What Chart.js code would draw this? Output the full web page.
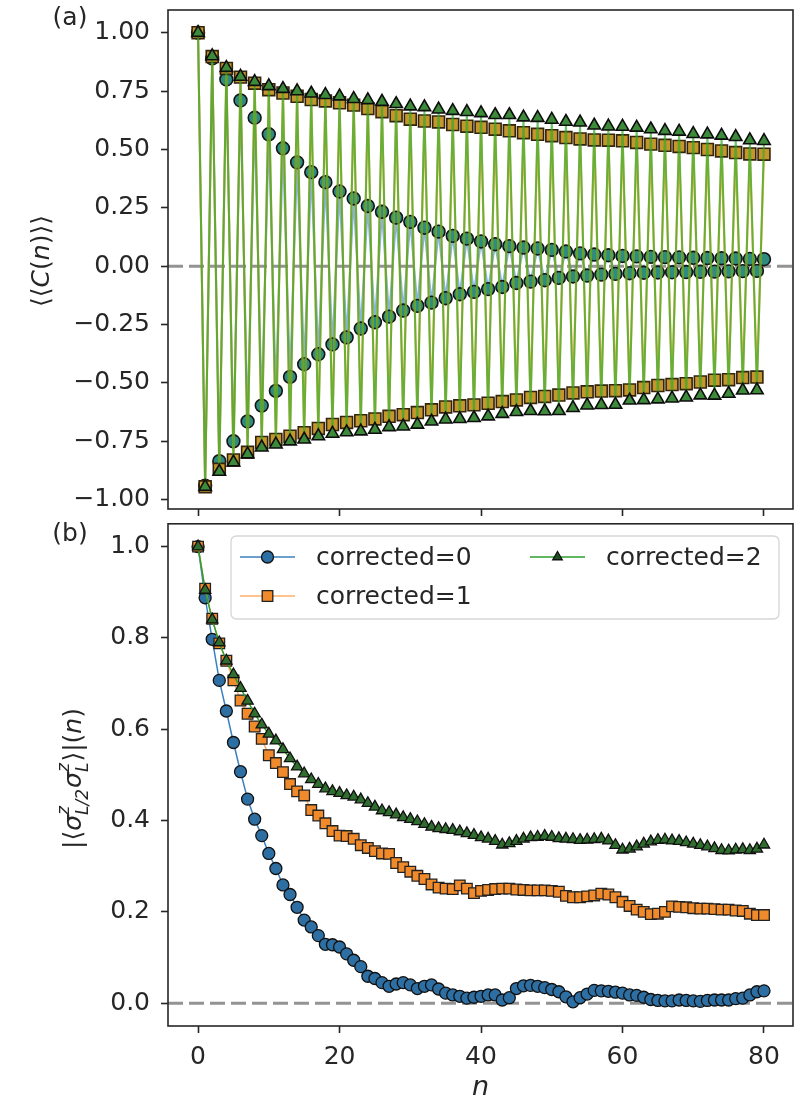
<!DOCTYPE html>
<html><head><meta charset="utf-8">
<script src="https://cdn.jsdelivr.net/npm/chart.js@4/dist/chart.umd.min.js"></script>
<style>
html,body{margin:0;padding:0;background:#fff;}
#wrap{position:relative;width:805px;height:1105px;overflow:hidden;background:#fff;}
#ca{position:absolute;left:0;top:0;width:805px;height:530px;}
#cb{position:absolute;left:0;top:515px;width:805px;height:590px;}
</style></head><body>
<div id="wrap"><canvas id="cb" width="805" height="590"></canvas><canvas id="ca" width="805" height="530"></canvas></div>
<script>
// ---------------- data ----------------
const n = [0,1,2,3,4,5,6,7,8,9,10,11,12,13,14,15,16,17,18,19,20,21,22,23,24,25,26,27,28,29,30,31,32,33,34,35,36,37,38,39,40,41,42,43,44,45,46,47,48,49,50,51,52,53,54,55,56,57,58,59,60,61,62,63,64,65,66,67,68,69,70,71,72,73,74,75,76,77,78,79,80];
const xTicks = [0,20,40,60,80];
const xTickLabels = ['0','20','40','60','80'];
const yTicksA = [-1,-0.75,-0.5,-0.25,0,0.25,0.5,0.75,1];
const yTickLabelsA = ['\u22121.00','\u22120.75','\u22120.50','\u22120.25','0.00','0.25','0.50','0.75','1.00'];
const yTicksB = [0,0.2,0.4,0.6,0.8,1.0];
const yTickLabelsB = ['0.0','0.2','0.4','0.6','0.8','1.0'];
const seriesNames = ['corrected=0','corrected=1','corrected=2'];
const refLine = 0;

// panel (a): <<C(n)>>
const cA0 = [1.0,-0.94,0.89,-0.835,0.80,-0.75,0.71,-0.665,0.636,-0.597,0.565,-0.534,0.505,-0.474,0.445,-0.42,0.403,-0.377,0.36,-0.335,0.32,-0.305,0.29,-0.267,0.258,-0.24,0.233,-0.216,0.208,-0.19,0.19,-0.17,0.165,-0.156,0.148,-0.137,0.13,-0.12,0.118,-0.11,0.106,-0.098,0.094,-0.089,0.086,-0.072,0.08,-0.066,0.076,-0.06,0.07,-0.05,0.063,-0.044,0.055,-0.04,0.05,-0.036,0.047,-0.033,0.044,-0.03,0.042,-0.028,0.04,-0.027,0.039,-0.026,0.038,-0.025,0.036,-0.024,0.035,-0.023,0.034,-0.022,0.033,-0.021,0.031,-0.02,0.03];
const cA1 = [1.0,-0.945,0.898,-0.87,0.847,-0.83,0.81,-0.797,0.784,-0.755,0.756,-0.742,0.742,-0.728,0.728,-0.713,0.714,-0.695,0.708,-0.678,0.70,-0.669,0.69,-0.662,0.675,-0.654,0.662,-0.643,0.645,-0.636,0.63,-0.627,0.622,-0.615,0.618,-0.603,0.607,-0.598,0.60,-0.594,0.595,-0.587,0.587,-0.58,0.58,-0.573,0.572,-0.562,0.565,-0.558,0.559,-0.552,0.551,-0.543,0.545,-0.538,0.541,-0.535,0.54,-0.533,0.537,-0.53,0.53,-0.52,0.523,-0.511,0.518,-0.507,0.513,-0.503,0.508,-0.496,0.50,-0.488,0.494,-0.486,0.487,-0.477,0.481,-0.475,0.48];
const cA2 = [1.0,-0.945,0.90,-0.88,0.85,-0.84,0.812,-0.805,0.79,-0.776,0.772,-0.763,0.76,-0.75,0.75,-0.742,0.74,-0.728,0.734,-0.717,0.728,-0.711,0.717,-0.707,0.712,-0.70,0.705,-0.689,0.695,-0.686,0.685,-0.678,0.682,-0.665,0.672,-0.656,0.666,-0.654,0.661,-0.65,0.656,-0.643,0.648,-0.632,0.648,-0.624,0.638,-0.62,0.636,-0.621,0.628,-0.62,0.619,-0.607,0.616,-0.596,0.603,-0.594,0.599,-0.593,0.598,-0.575,0.594,-0.573,0.587,-0.57,0.58,-0.566,0.577,-0.562,0.567,-0.553,0.565,-0.554,0.56,-0.546,0.554,-0.532,0.54,-0.531,0.537];

// panel (b): |<sigma sigma>|(n)
const sB0 = [1.0,0.888,0.797,0.707,0.64,0.571,0.507,0.447,0.403,0.367,0.328,0.295,0.259,0.238,0.21,0.182,0.167,0.148,0.129,0.128,0.123,0.108,0.094,0.08,0.059,0.054,0.045,0.037,0.042,0.045,0.04,0.032,0.037,0.04,0.031,0.022,0.018,0.015,0.011,0.013,0.015,0.018,0.018,0.007,0.012,0.032,0.038,0.039,0.037,0.034,0.03,0.025,0.014,0.003,0.012,0.02,0.028,0.027,0.026,0.024,0.022,0.018,0.017,0.013,0.008,0.006,0.005,0.005,0.007,0.006,0.005,0.004,0.006,0.007,0.007,0.007,0.01,0.011,0.018,0.025,0.027];
const sB1 = [1.0,0.908,0.842,0.788,0.75,0.707,0.663,0.634,0.606,0.579,0.543,0.526,0.506,0.48,0.464,0.455,0.423,0.411,0.394,0.377,0.367,0.366,0.36,0.346,0.34,0.333,0.328,0.327,0.307,0.298,0.288,0.279,0.272,0.26,0.253,0.251,0.25,0.258,0.251,0.241,0.246,0.248,0.25,0.251,0.251,0.249,0.248,0.247,0.247,0.247,0.246,0.244,0.235,0.232,0.232,0.234,0.236,0.24,0.238,0.232,0.222,0.213,0.205,0.20,0.195,0.196,0.20,0.212,0.211,0.21,0.208,0.207,0.207,0.206,0.205,0.205,0.203,0.202,0.196,0.193,0.193];
const sB2 = [1.0,0.905,0.84,0.79,0.75,0.72,0.69,0.662,0.634,0.61,0.59,0.575,0.556,0.536,0.518,0.503,0.49,0.48,0.47,0.464,0.46,0.455,0.452,0.446,0.438,0.43,0.422,0.418,0.413,0.407,0.403,0.398,0.392,0.386,0.383,0.381,0.379,0.376,0.372,0.368,0.363,0.36,0.355,0.347,0.35,0.355,0.36,0.363,0.364,0.366,0.364,0.361,0.36,0.359,0.357,0.358,0.359,0.36,0.356,0.346,0.336,0.338,0.343,0.349,0.354,0.357,0.358,0.356,0.355,0.352,0.349,0.346,0.343,0.339,0.335,0.334,0.336,0.337,0.335,0.338,0.347];

// ---------------- style ----------------
const FAM = "'DejaVu Sans', 'Liberation Sans', sans-serif";
const FS = 25;
const INK = '#262626';
Chart.defaults.font.family = FAM;
Chart.defaults.font.size = FS;
Chart.defaults.color = INK;

function pts(arr){ return n.map((x,i)=>({x:x, y:arr[i]})); }
function fnt(size, it){ return (it ? 'italic ' : '') + size + 'px ' + FAM; }

function drawRich(ctx, parts, cx, cy, angle){
  ctx.save();
  ctx.translate(cx, cy); ctx.rotate(angle);
  ctx.textAlign = 'left'; ctx.textBaseline = 'alphabetic'; ctx.fillStyle = INK;
  const ws = parts.map(p=>{
    if (p.stack){ ctx.font = fnt(p.size, true); return Math.max(ctx.measureText(p.sup).width, ctx.measureText(p.sub).width) + 1; }
    ctx.font = fnt(p.size || FS, p.it); return ctx.measureText(p.t).width;
  });
  const total = ws.reduce((a,b)=>a+b,0);
  let x = -total/2;
  const base = 8;
  parts.forEach((p,i)=>{
    if (p.stack){
      ctx.font = fnt(p.size, true);
      ctx.fillText(p.sup, x, base - 12);
      ctx.fillText(p.sub, x, base + 7);
    } else {
      ctx.font = fnt(p.size || FS, p.it);
      ctx.fillText(p.t, x, base);
    }
    x += ws[i];
  });
  ctx.restore();
}

function markerPath(ctx, style, r, x, y){
  ctx.beginPath();
  if (style === 'circle'){ ctx.arc(x, y, r, 0, Math.PI*2); }
  else if (style === 'rect'){ const s = Math.SQRT1_2 * r; ctx.rect(x - s, y - s, 2*s, 2*s); }
  else {
    let a = 0;
    ctx.moveTo(x + Math.sin(a)*r, y - Math.cos(a)*r); a += 2*Math.PI/3;
    ctx.lineTo(x + Math.sin(a)*r, y - Math.cos(a)*r); a += 2*Math.PI/3;
    ctx.lineTo(x + Math.sin(a)*r, y - Math.cos(a)*r);
    ctx.closePath();
  }
}

const framePlugin = {
  id:'frame',
  afterDatasetsDraw(chart){
    const {ctx, chartArea:a} = chart;
    ctx.save(); ctx.strokeStyle = INK; ctx.lineWidth = 1.6;
    ctx.strokeRect(a.left, a.top, a.right - a.left, a.bottom - a.top);
    ctx.restore();
  }
};
const zeroPlugin = {
  id:'zero',
  beforeDatasetsDraw(chart){
    const {ctx, chartArea:a, scales} = chart;
    const y = scales.y.getPixelForValue(refLine);
    ctx.save(); ctx.beginPath(); ctx.rect(a.left, a.top, a.right-a.left, a.bottom-a.top); ctx.clip();
    ctx.strokeStyle = 'rgba(128,128,128,0.85)'; ctx.lineWidth = 3; ctx.setLineDash([15,6]);
    ctx.beginPath(); ctx.moveTo(a.left, y); ctx.lineTo(a.right, y); ctx.stroke();
    ctx.restore();
  }
};

function xScale(showLabels, h){
  return {
    type:'linear', min:-4.25, max:84.1,
    afterBuildTicks(s){ s.ticks = xTicks.map(v=>({value:v})); },
    afterFit(s){ s.height = h; s.paddingLeft = 0; s.paddingRight = 0; },
    grid:{display:true, drawOnChartArea:false, drawTicks:true, tickLength:7, tickWidth:1.6, tickColor:INK},
    border:{display:false},
    ticks:{autoSkip:false, maxRotation:0, padding:9, color:INK, font:{size:FS},
      callback:(v,i)=> showLabels ? xTickLabels[i] : ''}
  };
}
function yScale(min, max, vals, labels){
  return {
    type:'linear', min:min, max:max,
    afterBuildTicks(s){ s.ticks = vals.map(v=>({value:v})); },
    afterFit(s){ s.width = 168; s.paddingTop = 0; s.paddingBottom = 0; },
    grid:{display:true, drawOnChartArea:false, drawTicks:true, tickLength:7, tickWidth:1.6, tickColor:INK},
    border:{display:false},
    ticks:{autoSkip:false, padding:11, color:INK, font:{size:FS, lineHeight:0.2}, callback:(v,i)=>labels[i]}
  };
}

// ---------------- panel (a) ----------------
const labelsA = {
  id:'labelsA',
  afterDraw(chart){
    const ctx = chart.ctx;
    ctx.save(); ctx.fillStyle = INK; ctx.font = fnt(FS,false);
    ctx.textAlign = 'center'; ctx.textBaseline = 'middle';
    ctx.fillText('(a)', 70, 18);
    ctx.restore();
    drawRich(ctx, [
      {t:'\u27E8\u27E8'}, {t:'C', it:true}, {t:'('}, {t:'n', it:true}, {t:')\u27E9\u27E9'}
    ], 41, 261, -Math.PI/2);
  }
};

new Chart(document.getElementById('ca'), {
  type:'line',
  data:{datasets:[
    {label:seriesNames[0], data:pts(cA0), order:3, borderColor:'rgba(31,119,180,0.55)', borderWidth:2,
     pointStyle:'circle', pointRadius:6.4, pointBackgroundColor:'#2f8a80', pointBorderColor:'#151515', pointBorderWidth:1.6},
    {label:seriesNames[1], data:pts(cA1), order:2, borderColor:'rgba(235,160,30,0.75)', borderWidth:2.2,
     pointStyle:'rect', pointRadius:8.4, pointBackgroundColor:'#c4962c', pointBorderColor:'#35240c', pointBorderWidth:1.6},
    {label:seriesNames[2], data:pts(cA2), order:1, borderColor:'rgba(50,170,40,0.7)', borderWidth:2,
     pointStyle:'triangle', pointRadius:7.2, pointBackgroundColor:'#3d8a3a', pointBorderColor:'#0d0d0d', pointBorderWidth:1.6}
  ]},
  options:{
    responsive:false, devicePixelRatio:1, animation:false, events:[],
    layout:{padding:{left:0, right:12, top:6, bottom:0}},
    plugins:{legend:{display:false}, tooltip:{enabled:false}},
    scales:{ x:xScale(false, 21), y:yScale(-1.04, 1.0975, yTicksA, yTickLabelsA) }
  },
  plugins:[zeroPlugin, framePlugin, labelsA]
});

// ---------------- panel (b) ----------------
const legStyles = [
  {line:'#3a80bf', lw:1.5, style:'circle', r:6, fill:'#2e6fa3', edge:'#111'},
  {line:'rgba(255,160,80,0.85)', lw:1.5, style:'rect', r:7.5, fill:'#f08a2a', edge:'#222'},
  {line:'#2ca02c', lw:1.5, style:'triangle', r:5.5, fill:'#1f4f1f', edge:'#111'}
];
const labelsB = {
  id:'labelsB',
  afterDraw(chart){
    const ctx = chart.ctx;
    ctx.save(); ctx.fillStyle = INK; ctx.font = fnt(FS,false);
    ctx.textAlign = 'center'; ctx.textBaseline = 'middle';
    ctx.fillText('(b)', 70, 19);
    ctx.font = fnt(FS+2, true); ctx.textBaseline = 'alphabetic';
    ctx.fillText('n', 480.5, 580);
    const bx = 231, by = 21, bw = 548, bh = 83, rr = 6;
    ctx.beginPath();
    ctx.moveTo(bx+rr, by); ctx.lineTo(bx+bw-rr, by); ctx.quadraticCurveTo(bx+bw, by, bx+bw, by+rr);
    ctx.lineTo(bx+bw, by+bh-rr); ctx.quadraticCurveTo(bx+bw, by+bh, bx+bw-rr, by+bh);
    ctx.lineTo(bx+rr, by+bh); ctx.quadraticCurveTo(bx, by+bh, bx, by+bh-rr);
    ctx.lineTo(bx, by+rr); ctx.quadraticCurveTo(bx, by, bx+rr, by); ctx.closePath();
    ctx.fillStyle = 'rgba(255,255,255,0.8)'; ctx.fill();
    ctx.strokeStyle = '#d6d6d6'; ctx.lineWidth = 1.3; ctx.stroke();
    const pos = [[240, 42],[240, 81],[530, 42]];
    seriesNames.forEach((name,i)=>{
      const [x0,y0] = pos[i]; const s = legStyles[i];
      ctx.strokeStyle = s.line; ctx.lineWidth = s.lw; ctx.setLineDash([]);
      ctx.beginPath(); ctx.moveTo(x0, y0); ctx.lineTo(x0+55, y0); ctx.stroke();
      markerPath(ctx, s.style, s.r, x0+27.5, y0);
      ctx.fillStyle = s.fill; ctx.fill(); ctx.strokeStyle = s.edge; ctx.lineWidth = 1.3; ctx.stroke();
      ctx.fillStyle = INK; ctx.font = fnt(FS,false); ctx.textAlign = 'left'; ctx.textBaseline = 'middle';
      ctx.fillText(name, x0+76, y0+1);
    });
    ctx.restore();
    drawRich(ctx, [
      {t:'|\u27E8'}, {t:'\u03C3', it:true}, {stack:true, sup:'z', sub:'L/2', size:17},
      {t:'\u03C3', it:true}, {stack:true, sup:'z', sub:'L', size:17},
      {t:'\u27E9|('}, {t:'n', it:true}, {t:')'}
    ], 73, 263.5, -Math.PI/2);
  }
};

new Chart(document.getElementById('cb'), {
  type:'line',
  data:{datasets:[
    {label:seriesNames[0], data:pts(sB0), order:3, borderColor:'#3a80bf', borderWidth:1.5,
     pointStyle:'circle', pointRadius:6, pointBackgroundColor:'#2e6fa3', pointBorderColor:'#111', pointBorderWidth:1.3},
    {label:seriesNames[1], data:pts(sB1), order:2, borderColor:'rgba(255,160,80,0.85)', borderWidth:1.5,
     pointStyle:'rect', pointRadius:7.5, pointBackgroundColor:'#f08a2a', pointBorderColor:'#222', pointBorderWidth:1.3},
    {label:seriesNames[2], data:pts(sB2), order:1, borderColor:'#2ca02c', borderWidth:1.5,
     pointStyle:'triangle', pointRadius:6.5, pointBackgroundColor:'#2f6e2f', pointBorderColor:'#111', pointBorderWidth:1.3}
  ]},
  options:{
    responsive:false, devicePixelRatio:1, animation:false, events:[],
    layout:{padding:{left:0, right:12, top:8, bottom:0}},
    plugins:{legend:{display:false}, tooltip:{enabled:false}},
    scales:{ x:xScale(true, 79), y:yScale(-0.05, 1.05, yTicksB, yTickLabelsB) }
  },
  plugins:[zeroPlugin, framePlugin, labelsB]
});
</script>
</body></html>
